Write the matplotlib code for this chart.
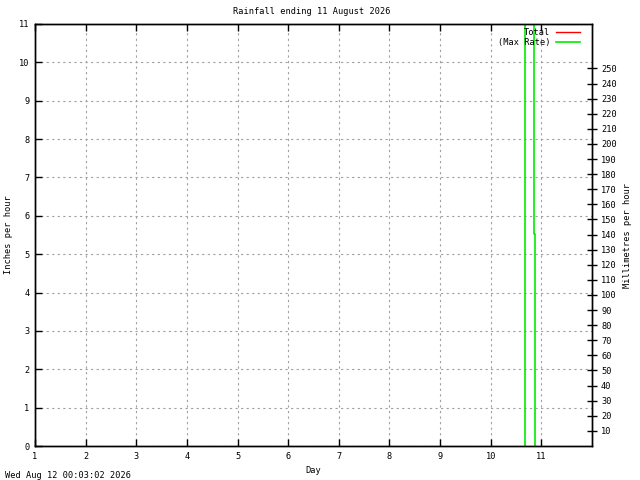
import matplotlib
matplotlib.use("Agg")
import matplotlib.pyplot as plt
import numpy as np

# Data
days = [1, 2, 3, 4, 5, 6, 7, 8, 9, 10, 11]
inch_ticks = list(range(0, 12))
mm_ticks = list(range(10, 260, 10))
total_time = []
total_in = []
rate_time = [10.67, 10.67, 10.85, 10.85, 10.87, 10.87]
rate_in = [0.0, 40.0, 40.0, 5.53, 5.53, 0.0]

title = "Rainfall ending 11 August 2026"
stamp = "Wed Aug 12 00:03:02 2026"

font = "DejaVu Sans Mono"
fs = 6.2

fig = plt.figure(figsize=(6.4, 4.8), dpi=100)
ax = fig.add_axes([35/640, 34/480, 557/640, 422/480])

ax.plot(total_time, total_in, color="#ff0000", lw=1, label="Total")
ax.plot(rate_time, rate_in, color="#00ee00", lw=1.2, label="(Max Rate)")

ax.set_xlim(1, 12)
ax.set_ylim(0, 11)
ax.set_xticks(days)
ax.set_yticks(inch_ticks)
ax.set_xticklabels([str(d) for d in days], fontfamily=font, fontsize=fs)
ax.set_yticklabels([str(v) for v in inch_ticks], fontfamily=font, fontsize=fs)
ax.tick_params(axis="both", direction="in", length=5, width=1, top=True, right=True, pad=4)
ax.grid(True, color="#a0a0a0", linestyle=(0, (2, 3)), linewidth=0.8)
for s in ax.spines.values():
    s.set_linewidth(1)
    s.set_color("black")

ax.set_xlabel("Day", fontfamily=font, fontsize=fs)
ax.xaxis.set_label_coords(0.5, -(466 - 446) / 422)
ax.set_ylabel("Inches per hour", fontfamily=font, fontsize=fs)
ax.yaxis.set_label_coords((13 - 35) / 557, 0.5)

ax2 = ax.twinx()
ax2.set_ylim(0, 11 * 25.4)
ax2.set_yticks(mm_ticks)
ax2.set_yticklabels([str(v) for v in mm_ticks], fontfamily=font, fontsize=fs)
ax2.tick_params(axis="y", direction="inout", length=7, width=1, pad=3)
ax2.set_ylabel("Millimetres per hour", fontfamily=font, fontsize=fs)
ax2.yaxis.set_label_coords((623 - 35) / 557, 0.5)
for s in ax2.spines.values():
    s.set_linewidth(1)

leg = ax.legend(loc="upper right", bbox_to_anchor=(1 - 8/557, 1), frameon=False,
                markerfirst=False, prop={"family": font, "size": fs}, handlelength=2.8,
                handletextpad=0.6, labelspacing=0.05, borderaxespad=0.3,
                borderpad=0.2)
for t in leg.get_texts():
    t.set_ha("right")
leg.set_zorder(5)

fig.text(312/640, 1 - 12/480, title, ha="center", va="center", fontfamily=font, fontsize=fs)
fig.text(5/640, 1 - 475/480, stamp, ha="left", va="center", fontfamily=font, fontsize=fs)

fig.savefig("out.png", dpi=100)
